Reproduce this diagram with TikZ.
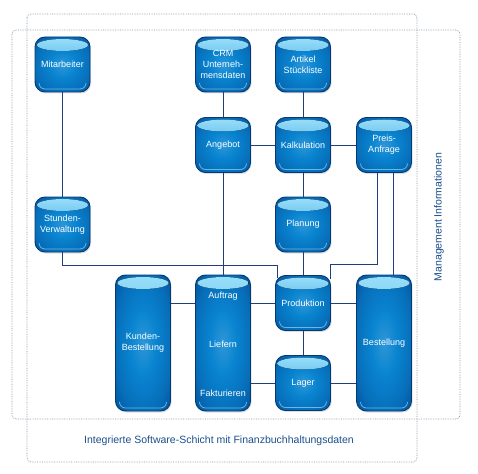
\documentclass[tikz,border=0pt]{standalone}
\usepackage{fontspec}
\setsansfont{Liberation Sans}
\usepackage{xcolor}
\usetikzlibrary{positioning,calc,shadows}
\definecolor{boxdark}{HTML}{073870}
\definecolor{boxmid}{HTML}{044C96}
\definecolor{boxlight}{HTML}{0984D0}
\definecolor{hilite}{HTML}{9ADFFA}
\definecolor{linecol}{HTML}{1E3F7C}
\definecolor{framecol}{HTML}{8794AC}
\definecolor{labelcol}{HTML}{1A4E8C}
\pgfdeclareradialshading{boxshade}{\pgfpoint{0bp}{0bp}}{color(0bp)=(boxlight!85!white); color(12bp)=(boxlight); color(26bp)=(boxlight!60!boxmid); color(37bp)=(boxmid); color(46bp)=(boxdark); color(70bp)=(boxdark)}

\begin{document}
\begin{tikzpicture}[x=1pt, y=-1pt,
  glossy/.style={draw=boxdark, line width=0.9pt, rounded corners=10pt,
    shading=boxshade, minimum width=55pt, minimum height=55pt,
    text=white, font=\sffamily\fontsize{9}{11}\selectfont, align=center,
    drop shadow={opacity=0.25, shadow xshift=1pt, shadow yshift=-1.5pt},
    path picture={
      \fill[top color=hilite, bottom color=boxlight!85!hilite]
        ($(path picture bounding box.north)+(0,8)$) ellipse (25.5 and 6);
      \draw[hilite!60!boxlight, line width=0.8pt, rounded corners=6pt]
        ($(path picture bounding box.south west)+(4,-9)$) |- ($(path picture bounding box.south)+(0,-3)$)
        -| ($(path picture bounding box.south east)+(-4,-9)$);
    }},
  tallbox/.style={glossy, minimum height=136pt},
  intext/.style={text=white, font=\sffamily\fontsize{9}{11}\selectfont},
  link/.style={draw=linecol, line width=0.7pt},
  frame/.style={draw=framecol, densely dotted, line width=0.7pt, rounded corners=4pt},
  caption/.style={text=labelcol, font=\sffamily\fontsize{10.5}{12}\selectfont}]
% 1 unit = 1 px of the sketch, y runs downward
\useasboundingbox (0,0) rectangle (478,473);
\draw[frame] (27,14) rectangle (417,462);
\draw[frame] (12,30) rectangle (460,419);
\node[caption] (schicht) at (219,441) {Integrierte Software-Schicht mit Finanzbuchhaltungsdaten};
\node[caption, rotate=90] (mis) at (439,217) {Management Informationen};

% boxes
\node[glossy] (mitarb) at (62.5,64.5) {Mitarbeiter};
\node[glossy] (crm) at (223,64.5) {CRM\\Unterneh-\\mensdaten};
\node[glossy] (artikel) at (303,64.5) {Artikel\\Stückliste};
\node[glossy] (angebot) at (223,145) {Angebot};
\node[glossy] (kalk) at (303,145) {Kalkulation};
\node[glossy] (preis) at (384,145) {Preis-\\Anfrage};
\node[glossy] (stunden) at (62.5,224.5) {Stunden-\\Verwaltung};
\node[glossy] (planung) at (303,224.5) {Planung};
\node[glossy] (prod) at (303,303) {Produktion};
\node[glossy] (lager) at (303,383) {Lager};
\node[tallbox] (kunden) at (143,343) {Kunden-\\Bestellung};
\node[tallbox] (auftr) at (223,343) {};
\node[tallbox] (best) at (384,343) {Bestellung};
\node[intext] (auftrag) at (223,296) {Auftrag};
\node[intext] (liefern) at (223,344) {Liefern};
\node[intext] (faktur) at (223,393) {Fakturieren};

% connections
\draw[link] (mitarb) -- (stunden);
\draw[link] (crm) -- (angebot);
\draw[link] (artikel) -- (kalk);
\draw[link] (angebot) -- (kalk);
\draw[link] (kalk) -- (preis);
\draw[link] (kalk) -- (planung);
\draw[link] (planung) -- (prod);
\draw[link] (angebot) -- (auftr);
\draw[link] (prod) -- (lager);
\draw[link] (stunden.south) -- ++(0,13) -| ($(prod.north west)+(2,3)$);
\draw[link] ($(preis.south)+(-7,0)$) -- ++(0,91) -| ($(prod.north east)+(-1,4)$);
\draw[link] ($(preis.south)+(9,0)$) -- ($(best.north)+(9,0)$);
\draw[link] (prod.west -| kunden.east) -- (prod.west -| auftr.west);
\draw[link] (prod.west -| auftr.east) -- (prod.west);
\draw[link] (prod.east) -- (prod.east -| best.west);
\draw[link] (lager.west -| auftr.east) -- (lager.west);
\draw[link] (lager.east) -- (lager.east -| best.west);
\end{tikzpicture}
\end{document}
